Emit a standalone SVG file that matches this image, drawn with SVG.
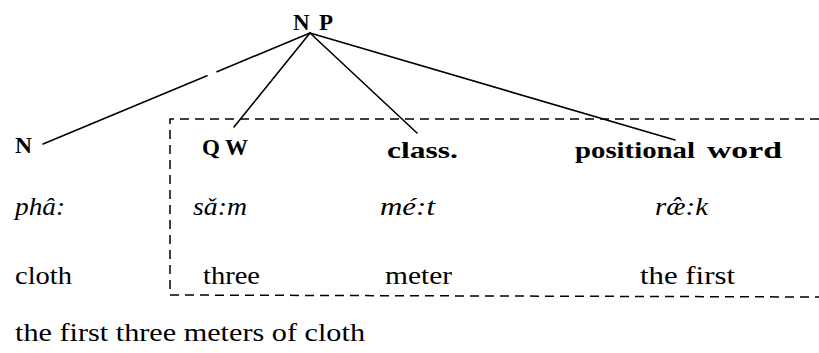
<svg xmlns="http://www.w3.org/2000/svg" width="819" height="353" viewBox="0 0 819 353">
  <style>
    .cat { font-family: "Liberation Serif", "Times New Roman", serif; font-weight: bold; font-size: 23px; fill: #000; }
    .thai { font-family: "Liberation Serif", "Times New Roman", serif; font-style: italic; font-size: 26px; fill: #000; }
    .gloss { font-family: "Liberation Serif", "Times New Roman", serif; font-size: 26px; fill: #000; }
    .branch { stroke: #000; stroke-width: 1.6; fill: none; stroke-linecap: round; }
    .box { stroke: #000; stroke-width: 1.5; fill: none; stroke-dasharray: 9 6; }
  </style>
  <rect width="819" height="353" fill="#fff"/>

  <!-- tree branches from NP -->
  <g id="connectors">
    <line class="branch" x1="310" y1="33" x2="217" y2="71.7"/>
    <line class="branch" x1="207" y1="75.8" x2="43" y2="144"/>
    <line class="branch" x1="310" y1="33" x2="234" y2="127"/>
    <line class="branch" x1="310" y1="33" x2="417" y2="133"/>
    <line class="branch" x1="310" y1="33" x2="675" y2="140"/>
  </g>

  <!-- dashed grouping box, open on the right -->
  <g id="box">
    <path class="box" d="M819 119 H170 V295 L819 297"/>
  </g>

  <g id="np">
    <text class="cat" x="293" y="30" textLength="40" lengthAdjust="spacing">NP</text>
  </g>
  <g id="n">
    <text class="cat" x="15" y="153" textLength="17" lengthAdjust="spacingAndGlyphs">N</text>
  </g>
  <g id="qw">
    <text class="cat" x="202" y="155" textLength="46" lengthAdjust="spacing">QW</text>
  </g>
  <g id="class">
    <text class="cat" x="387" y="158" textLength="71" lengthAdjust="spacingAndGlyphs">class.</text>
  </g>
  <g id="positional-word">
    <text class="cat" x="575" y="158" textLength="120" lengthAdjust="spacingAndGlyphs">positional</text>
    <text class="cat" x="707" y="158" textLength="75" lengthAdjust="spacingAndGlyphs">word</text>
  </g>

  <!-- Thai transcription row -->
  <g id="thai-row">
    <text class="thai" x="15" y="215" textLength="50" lengthAdjust="spacingAndGlyphs">phâ:</text>
    <text class="thai" x="193" y="215" textLength="54" lengthAdjust="spacingAndGlyphs">sǎ:m</text>
    <text class="thai" x="380" y="215" textLength="55" lengthAdjust="spacingAndGlyphs">mé:t</text>
    <text class="thai" x="655" y="215" textLength="53" lengthAdjust="spacingAndGlyphs">ræ̂:k</text>
  </g>

  <!-- gloss row -->
  <g id="gloss-row">
    <text class="gloss" x="15" y="284" textLength="57" lengthAdjust="spacingAndGlyphs">cloth</text>
    <text class="gloss" x="203" y="284" textLength="57" lengthAdjust="spacingAndGlyphs">three</text>
    <text class="gloss" x="385" y="284" textLength="67" lengthAdjust="spacingAndGlyphs">meter</text>
    <text class="gloss" x="640" y="284" textLength="95" lengthAdjust="spacingAndGlyphs">the first</text>
  </g>

  <g id="translation">
    <text class="gloss" x="15" y="341" textLength="350" lengthAdjust="spacingAndGlyphs">the first three meters of cloth</text>
  </g>
</svg>
